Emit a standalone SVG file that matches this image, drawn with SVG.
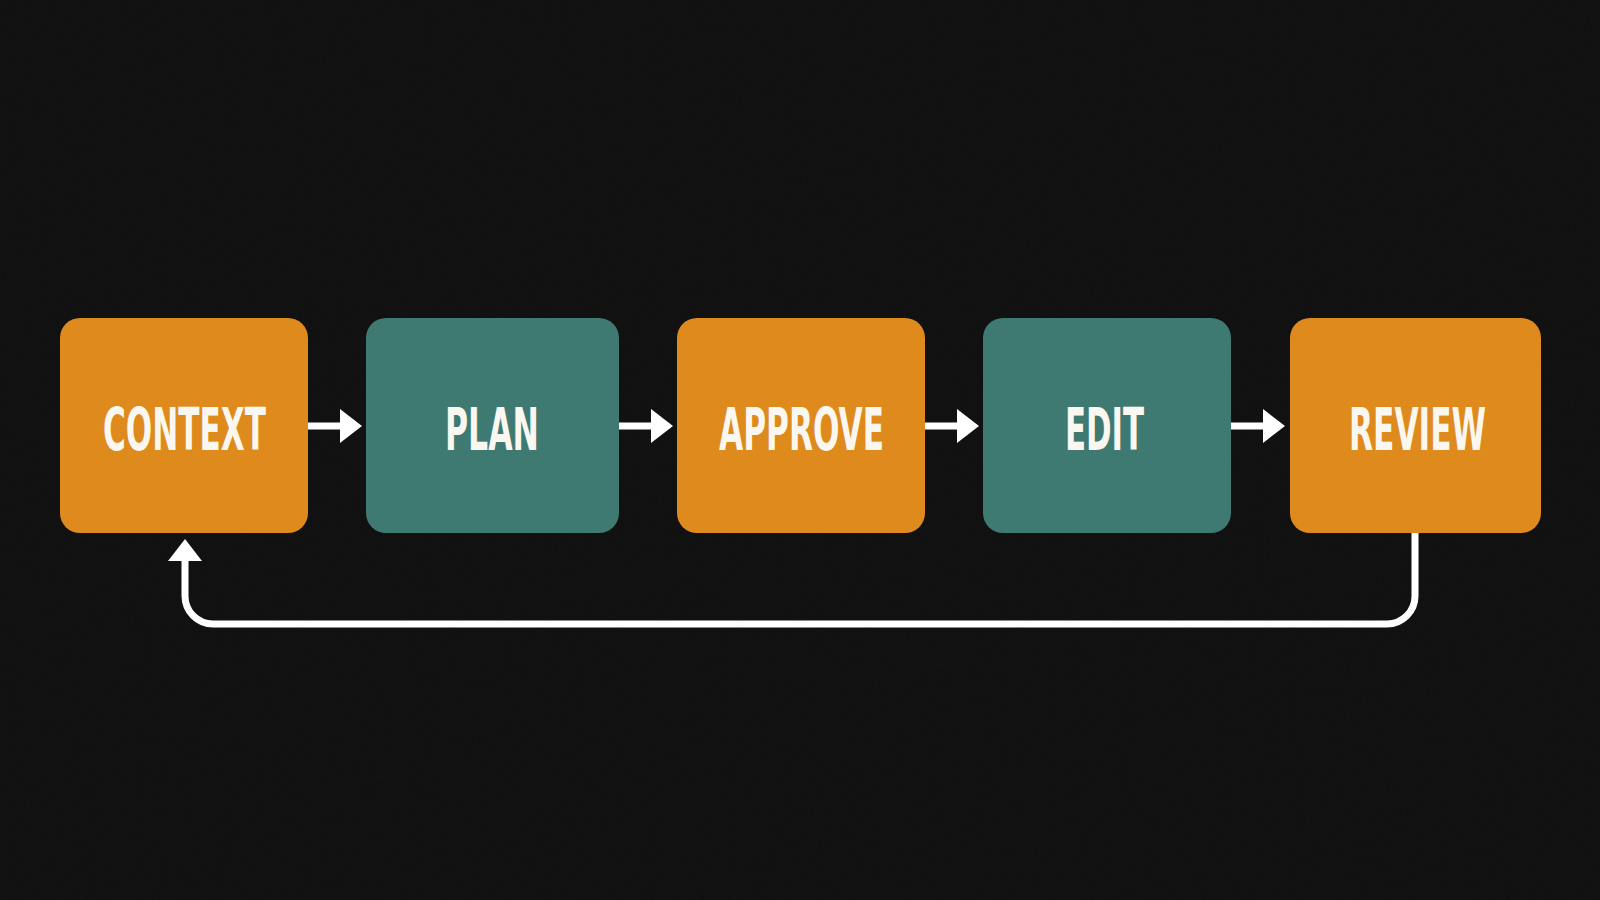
<svg xmlns="http://www.w3.org/2000/svg" width="1600" height="900" viewBox="0 0 1600 900">
  <defs>
    <style>
      .orange { fill: #DF8A1C; }
      .teal { fill: #3F7A72; }
      .label { font-family: "Liberation Sans Narrow", "DejaVu Sans Condensed", "Liberation Sans", sans-serif; font-weight: bold; font-size: 59px; fill: #FAF7F0; text-anchor: middle; }
      .conn { fill: none; stroke: #FFFFFF; stroke-width: 7; }
    </style>
    <marker id="head" viewBox="0 0 22 34" refX="4" refY="17" markerWidth="22" markerHeight="34" markerUnits="userSpaceOnUse" orient="auto">
      <path d="M0,0 L22,17 L0,34 Z" fill="#FFFFFF"/>
    </marker>
    <filter id="noise" x="0" y="0" width="100%" height="100%">
      <feTurbulence type="fractalNoise" baseFrequency="0.9" numOctaves="2" seed="3" result="n"/>
      <feColorMatrix type="saturate" values="0"/>
    </filter>
  </defs>
  <rect width="1600" height="900" fill="#0E0E0E"/>
  <rect width="1600" height="900" filter="url(#noise)" opacity="0.04"/>

  <g id="connectors">
    <path class="conn" d="M308,426 H344" marker-end="url(#head)"/>
    <path class="conn" d="M619,426 H655" marker-end="url(#head)"/>
    <path class="conn" d="M925,426 H961" marker-end="url(#head)"/>
    <path class="conn" d="M1231,426 H1267" marker-end="url(#head)"/>
    <path class="conn" d="M1415,533 V596 A28,28 0 0 1 1387,624 H213 A28,28 0 0 1 185,596 V557" marker-end="url(#head)"/>
  </g>

  <g id="node-context">
    <rect class="orange" x="60" y="318" width="248" height="215" rx="20"/>
    <text class="label" x="184.5" y="450" textLength="163" lengthAdjust="spacingAndGlyphs">CONTEXT</text>
  </g>
  <g id="node-plan">
    <rect class="teal" x="366" y="318" width="253" height="215" rx="20"/>
    <text class="label" x="492" y="450" textLength="94" lengthAdjust="spacingAndGlyphs">PLAN</text>
  </g>
  <g id="node-approve">
    <rect class="orange" x="677" y="318" width="248" height="215" rx="20"/>
    <text class="label" x="801.5" y="450" textLength="165" lengthAdjust="spacingAndGlyphs">APPROVE</text>
  </g>
  <g id="node-edit">
    <rect class="teal" x="983" y="318" width="248" height="215" rx="20"/>
    <text class="label" x="1104.5" y="450" textLength="79" lengthAdjust="spacingAndGlyphs">EDIT</text>
  </g>
  <g id="node-review">
    <rect class="orange" x="1290" y="318" width="251" height="215" rx="20"/>
    <text class="label" x="1417.5" y="450" textLength="137" lengthAdjust="spacingAndGlyphs">REVIEW</text>
  </g>
</svg>
